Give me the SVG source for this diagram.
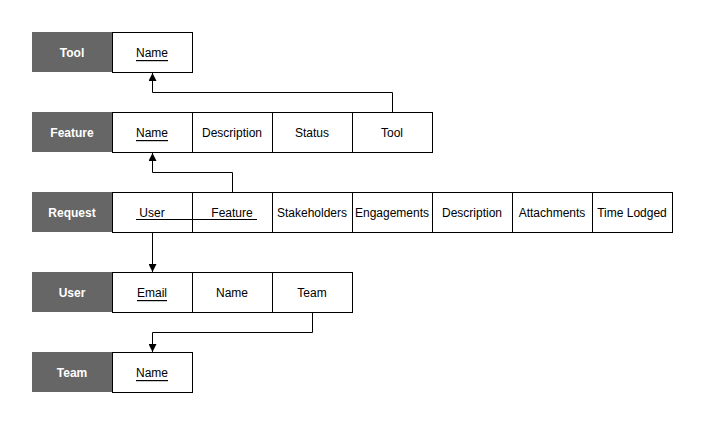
<svg xmlns="http://www.w3.org/2000/svg" width="705" height="425" viewBox="0 0 705 425">
<defs>
<style>
.hdr{fill:#666666;stroke:none}
.cell{fill:#ffffff;stroke:#000000;stroke-width:1}
.ht{font-family:"Liberation Sans",Arial,sans-serif;font-size:12px;font-weight:bold;fill:#ffffff;text-anchor:middle;dominant-baseline:central}
.ct{font-family:"Liberation Sans",Arial,sans-serif;font-size:12px;fill:#000000;text-anchor:middle;dominant-baseline:central}
.u{text-decoration:underline}
.edge{fill:none;stroke:#000000;stroke-width:1}
</style>
<marker id="arr" viewBox="0 0 10 10" refX="10" refY="5" markerWidth="8" markerHeight="8" markerUnits="userSpaceOnUse" orient="auto">
<path d="M0,0 L10,5 L0,10 Z" fill="#000000"/>
</marker>
</defs>
<rect width="705" height="425" fill="#ffffff"/>

<g id="tool">
<rect class="hdr" x="32" y="32" width="80" height="40"/>
<text class="ht" x="72" y="53">Tool</text>
<rect class="cell" x="112.5" y="32.5" width="80" height="40"/>
<text class="ct u" x="152" y="53">Name</text>
</g>

<g id="feature">
<rect class="hdr" x="32" y="112" width="80" height="40"/>
<text class="ht" x="72" y="133">Feature</text>
<rect class="cell" x="112.5" y="112.5" width="80" height="40"/>
<text class="ct u" x="152" y="133">Name</text>
<rect class="cell" x="192.5" y="112.5" width="80" height="40"/>
<text class="ct" x="232" y="133">Description</text>
<rect class="cell" x="272.5" y="112.5" width="80" height="40"/>
<text class="ct" x="312" y="133">Status</text>
<rect class="cell" x="352.5" y="112.5" width="80" height="40"/>
<text class="ct" x="392" y="133">Tool</text>
</g>

<g id="request">
<rect class="hdr" x="32" y="192" width="80" height="40"/>
<text class="ht" x="72" y="213">Request</text>
<rect class="cell" x="112.5" y="192.5" width="80" height="40"/>
<text class="ct" x="152" y="213">User</text>
<rect class="cell" x="192.5" y="192.5" width="80" height="40"/>
<text class="ct" x="232" y="213">Feature</text>
<line x1="136" y1="219.5" x2="257" y2="219.5" stroke="#000000" stroke-width="1"/>
<rect class="cell" x="272.5" y="192.5" width="80" height="40"/>
<text class="ct" x="312" y="213">Stakeholders</text>
<rect class="cell" x="352.5" y="192.5" width="80" height="40"/>
<text class="ct" x="392" y="213">Engagements</text>
<rect class="cell" x="432.5" y="192.5" width="80" height="40"/>
<text class="ct" x="472" y="213">Description</text>
<rect class="cell" x="512.5" y="192.5" width="80" height="40"/>
<text class="ct" x="552" y="213">Attachments</text>
<rect class="cell" x="592.5" y="192.5" width="80" height="40"/>
<text class="ct" x="632" y="213">Time Lodged</text>
</g>

<g id="user">
<rect class="hdr" x="32" y="272" width="80" height="40"/>
<text class="ht" x="72" y="293">User</text>
<rect class="cell" x="112.5" y="272.5" width="80" height="40"/>
<text class="ct u" x="152" y="293">Email</text>
<rect class="cell" x="192.5" y="272.5" width="80" height="40"/>
<text class="ct" x="232" y="293">Name</text>
<rect class="cell" x="272.5" y="272.5" width="80" height="40"/>
<text class="ct" x="312" y="293">Team</text>
</g>

<g id="team">
<rect class="hdr" x="32" y="352" width="80" height="40"/>
<text class="ht" x="72" y="373">Team</text>
<rect class="cell" x="112.5" y="352.5" width="80" height="40"/>
<text class="ct u" x="152" y="373">Name</text>
</g>

<g id="connectors">
<polyline class="edge" points="392.5,112.5 392.5,92.5 152.5,92.5 152.5,73" marker-end="url(#arr)"/>
<polyline class="edge" points="232.5,192.5 232.5,172.5 152.5,172.5 152.5,153" marker-end="url(#arr)"/>
<polyline class="edge" points="152.5,232.5 152.5,272" marker-end="url(#arr)"/>
<polyline class="edge" points="312.5,312.5 312.5,332.5 152.5,332.5 152.5,352" marker-end="url(#arr)"/>
</g>
</svg>
